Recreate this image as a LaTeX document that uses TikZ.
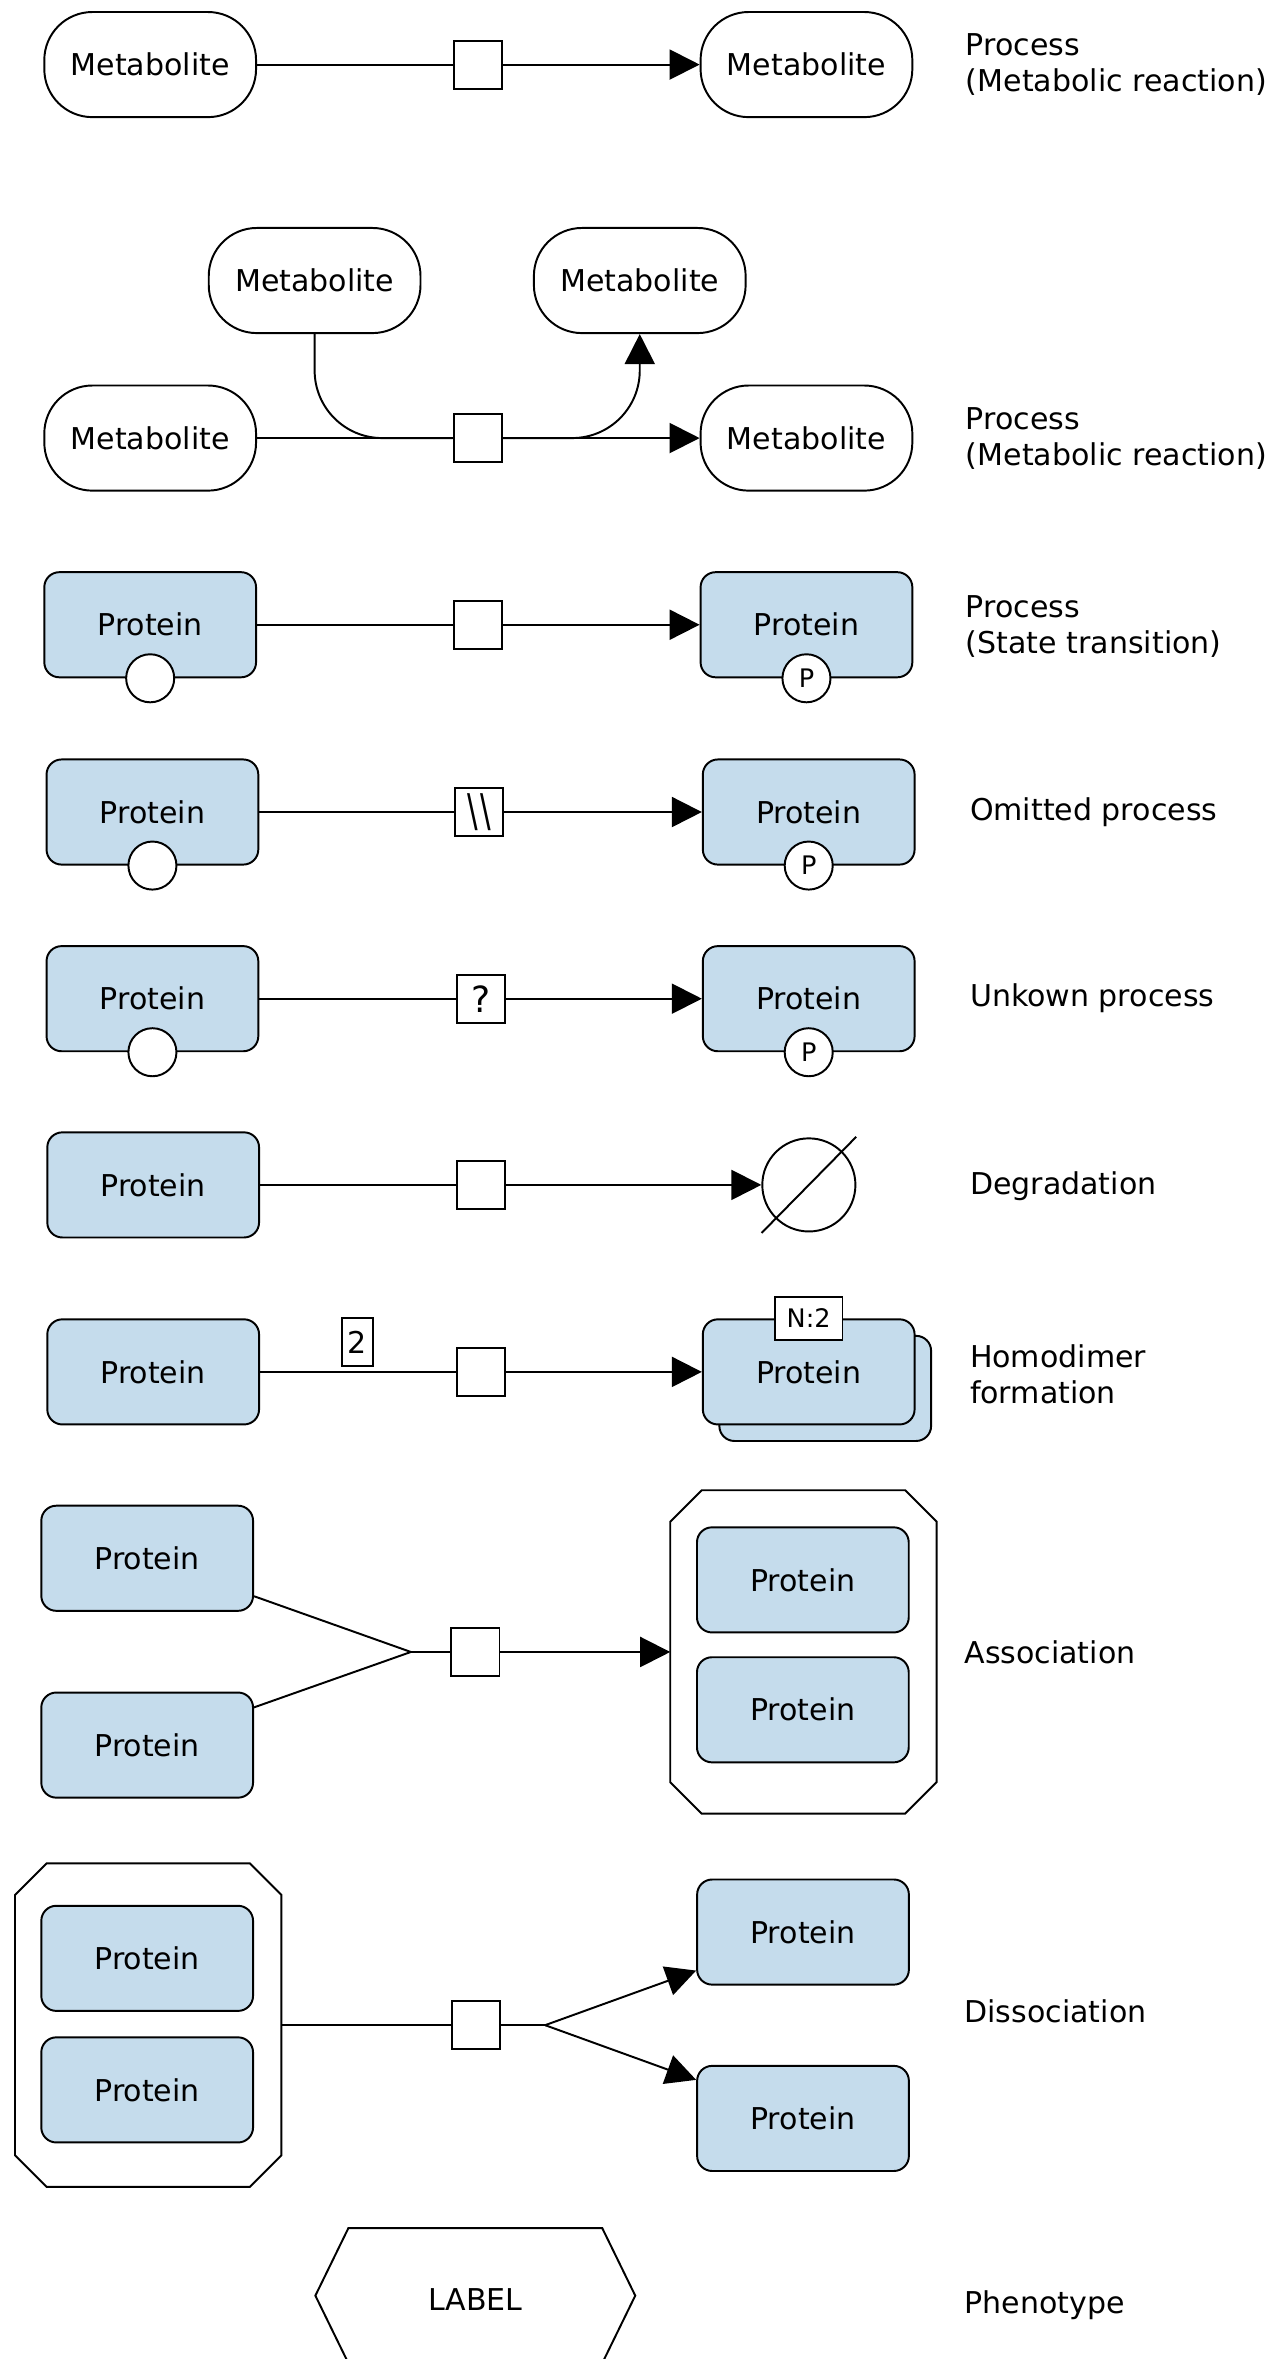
\documentclass[tikz,border=0pt]{standalone}
\usepackage{fontspec}
\setmainfont{DejaVu Sans}
\usetikzlibrary{arrows.meta,calc}
\definecolor{protfill}{RGB}{197,220,236}
\begin{document}
\begin{tikzpicture}[x=1pt,y=-1pt]
\tikzset{
 every node/.style={font=\fontsize{20}{24}\selectfont},
 base/.style={draw, line width=1.3pt},
 metab/.style={base, rectangle, rounded corners=32pt, minimum width=141pt, minimum height=70pt, inner sep=0pt},
 prot/.style={base, rectangle, rounded corners=10pt, fill=protfill, minimum width=141pt, minimum height=70pt, inner sep=0pt},
 procbox/.style={base, rectangle, fill=white, minimum width=32pt, minimum height=32pt, inner sep=0pt},
 stvar/.style={base, circle, fill=white, minimum size=32pt, inner sep=0pt, font=\fontsize{17}{17}\selectfont},
 infobox/.style={base, rectangle, fill=white, inner sep=0pt},
 lbl/.style={anchor=west, align=left, inner sep=0pt},
 link/.style={line width=1.3pt},
 prod/.style={link, -{Triangle[length=20pt,width=20pt]}},
 cplxarea/.style={rectangle, minimum width=177pt, minimum height=215pt, inner sep=0pt},
}
\useasboundingbox (0,0) rectangle (853,1570.8);

% Row 1
\node[metab] (m1a) at (100,43) {Metabolite};
\node[procbox] (p1) at (318,43) {};
\node[metab] (m1b) at (537,43) {Metabolite};
\draw[link] (m1a) -- (p1);
\draw[prod] (p1) -- (m1b);
\node[lbl] (l1) at (643,43) {Process\\(Metabolic reaction)};

% Row 2
\node[metab] (m2a) at (100,291.7) {Metabolite};
\node[metab] (m2c) at (209.5,186.8) {Metabolite};
\node[metab] (m2d) at (426,186.8) {Metabolite};
\node[metab] (m2b) at (537,291.7) {Metabolite};
\node[procbox] (p2) at (318,291.7) {};
\draw[link] (m2a) -- (p2);
\draw[link, rounded corners=45pt] (m2c.south) |- (p2.west);
\draw[prod] (p2) -- (m2b);
\draw[prod, rounded corners=45pt] (p2.east) -| (m2d.south);
\node[lbl] (l2) at (643,291.7) {Process\\(Metabolic reaction)};

% Row 3
\node[prot] (r3a) at (100,416) {Protein};
\node[stvar] (s3a) at (r3a.south) {};
\node[procbox] (p3) at (318,416) {};
\node[prot] (r3b) at (537,416) {Protein};
\node[stvar] (s3b) at (r3b.south) {P};
\draw[link] (r3a) -- (p3);
\draw[prod] (p3) -- (r3b);
\node[lbl] (l3) at (643,417) {Process\\(State transition)};

% Row 4
\node[prot] (r4a) at (101.5,540.7) {Protein};
\node[stvar] (s4a) at (r4a.south) {};
\node[procbox] (p4) at (319,540.7) {\scalebox{0.7}[1]{\fontsize{30}{30}\selectfont\textbackslash\kern2pt\textbackslash}};
\node[prot] (r4b) at (538.5,540.7) {Protein};
\node[stvar] (s4b) at (r4b.south) {P};
\draw[link] (r4a) -- (p4);
\draw[prod] (p4) -- (r4b);
\node[lbl] (l4) at (645.7,541) {Omitted process};

% Row 5
\node[prot] (r5a) at (101.5,665) {Protein};
\node[stvar] (s5a) at (r5a.south) {};
\node[procbox] (p5) at (320,665) {\fontsize{24}{24}\selectfont ?};
\node[prot] (r5b) at (538.5,665) {Protein};
\node[stvar] (s5b) at (r5b.south) {P};
\draw[link] (r5a) -- (p5);
\draw[prod] (p5) -- (r5b);
\node[lbl] (l5) at (645.7,665) {Unkown process};

% Row 6
\node[prot] (r6) at (102,789) {Protein};
\node[procbox] (p6) at (320,789) {};
\node[base, circle, minimum size=62pt, inner sep=0pt] (deg) at (538.6,789) {};
\draw[link] ([xshift=-31.5pt,yshift=-32pt]deg.center) -- ([xshift=31.5pt,yshift=32pt]deg.center);
\draw[link] (r6) -- (p6);
\draw[prod] (p6) -- (deg);
\node[lbl] (l6) at (645.7,790) {Degradation};

% Row 7
\node[prot] (r7) at (102,913.5) {Protein};
\node[procbox] (p7) at (320,913.5) {};
\node[prot] (r7back) at (549.5,924.5) {};
\node[prot] (r7b) at (538.5,913.5) {Protein};
\node[infobox, minimum width=45pt, minimum height=29pt, font=\fontsize{17}{17}\selectfont] (n7) at (r7b.north) {N:2};
\node[infobox, minimum width=21pt, minimum height=32pt] (st7) at (238,893.5) {2};
\draw[link] (r7) -- (p7);
\draw[prod] (p7) -- (r7b);
\node[lbl] (l7) at (645.7,915) {Homodimer\\formation};

% Row 8: association
\node[prot] (a1) at (98,1037.6) {Protein};
\node[prot] (a2) at (98,1162) {Protein};
\coordinate (ja) at (273.6,1100);
\node[procbox] (p8) at (316.6,1100) {};
\node[cplxarea] (c8) at (535,1100) {};
\draw[base] ([xshift=21pt]c8.north west) -- ([xshift=-21pt]c8.north east) -- ([yshift=-21pt]c8.north east)
  -- ([yshift=21pt]c8.south east) -- ([xshift=-21pt]c8.south east) -- ([xshift=21pt]c8.south west)
  -- ([yshift=21pt]c8.south west) -- ([yshift=-21pt]c8.north west) -- cycle;
\node[prot] (c8a) at (534.6,1052) {Protein};
\node[prot] (c8b) at (534.6,1138.5) {Protein};
\draw[link] (a1) -- (ja);
\draw[link] (a2) -- (ja);
\draw[link] (ja) -- (p8);
\draw[prod] (p8) -- (c8);
\node[lbl] (l8) at (642,1100.5) {Association};

% Row 9: dissociation
\node[cplxarea] (c9) at (98.7,1348.5) {};
\draw[base] ([xshift=21pt]c9.north west) -- ([xshift=-21pt]c9.north east) -- ([yshift=-21pt]c9.north east)
  -- ([yshift=21pt]c9.south east) -- ([xshift=-21pt]c9.south east) -- ([xshift=21pt]c9.south west)
  -- ([yshift=21pt]c9.south west) -- ([yshift=-21pt]c9.north west) -- cycle;
\node[prot] (c9a) at (98,1304) {Protein};
\node[prot] (c9b) at (98,1391.6) {Protein};
\node[procbox] (p9) at (317,1348.5) {};
\coordinate (jd) at (363,1348.5);
\node[prot] (d1) at (534.7,1286.5) {Protein};
\node[prot] (d2) at (534.7,1410.6) {Protein};
\draw[link] (c9) -- (p9);
\draw[link] (p9) -- (jd);
\draw[prod] (jd) -- (d1);
\draw[prod] (jd) -- (d2);
\node[lbl] (l9) at (642,1339) {Dissociation};

% Row 10: phenotype
\node (ph) at (316.5,1528.6) {};
\node[inner sep=0pt] (phtext) at (316.5,1531) {LABEL};
\draw[base] ($(ph.center)+(-106.5,0)$) -- ++(22,-45) -- ++(169,0) -- ++(22,45) -- ++(-22,45) -- ++(-169,0) -- cycle;
\node[lbl, text depth=0pt] (l10) at (642,1533) {Phenotype};
\end{tikzpicture}
\end{document}
